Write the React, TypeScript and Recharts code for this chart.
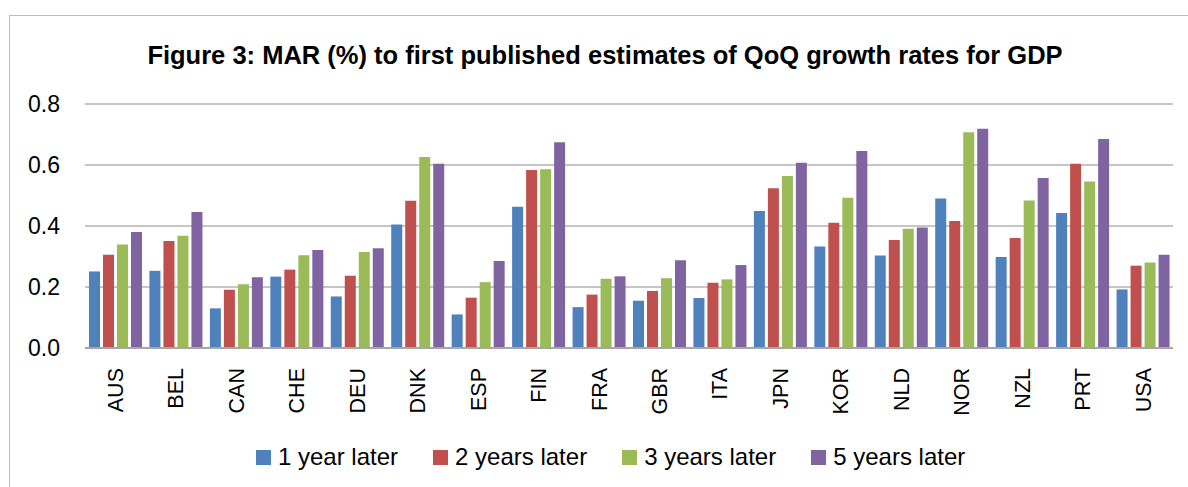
import React from "react";
import { BarChart, Bar, XAxis, YAxis, CartesianGrid } from "recharts";

const countries = ["AUS", "BEL", "CAN", "CHE", "DEU", "DNK", "ESP", "FIN", "FRA", "GBR", "ITA", "JPN", "KOR", "NLD", "NOR", "NZL", "PRT", "USA"];
const oneYear = [0.251, 0.253, 0.130, 0.234, 0.169, 0.405, 0.110, 0.463, 0.134, 0.155, 0.164, 0.449, 0.333, 0.303, 0.490, 0.298, 0.443, 0.192];
const twoYears = [0.306, 0.351, 0.191, 0.257, 0.237, 0.483, 0.165, 0.584, 0.175, 0.187, 0.214, 0.524, 0.411, 0.354, 0.416, 0.361, 0.604, 0.270];
const threeYears = [0.339, 0.368, 0.209, 0.304, 0.315, 0.626, 0.216, 0.586, 0.227, 0.229, 0.225, 0.564, 0.493, 0.391, 0.707, 0.484, 0.546, 0.280];
const fiveYears = [0.380, 0.446, 0.232, 0.321, 0.327, 0.604, 0.285, 0.675, 0.235, 0.288, 0.272, 0.607, 0.646, 0.395, 0.719, 0.557, 0.685, 0.306];
const yTicks = [0, 0.2, 0.4, 0.6, 0.8];
const seriesNames = ["1 year later", "2 years later", "3 years later", "5 years later"];
const seriesKeys = ["y1", "y2", "y3", "y5"];
const seriesColors = ["#4F81BD", "#C0504D", "#9BBB59", "#8064A2"];
const title = "Figure 3: MAR (%) to first published estimates of QoQ growth rates for GDP";

const data = countries.map((c, i) => ({
  name: c,
  y1: oneYear[i],
  y2: twoYears[i],
  y3: threeYears[i],
  y5: fiveYears[i],
}));

const FONT = "'Liberation Sans', Arial, sans-serif";

const XTick = (props: any) => {
  const { x, y, payload } = props;
  return (
    <text
      transform={`translate(${x},${y + 18}) rotate(-90)`}
      textAnchor="end"
      dy="0.36em"
      fontSize={21.5}
      fontFamily={FONT}
      fill="#000"
    >
      {payload.value}
    </text>
  );
};

export default function App() {
  return (
    <div style={{ position: "absolute", left: 0, top: 0, width: 1188, height: 487, background: "#fff", overflow: "hidden" }}>
      <div
        style={{
          position: "absolute",
          left: 9,
          top: 15,
          width: 1188,
          height: 487,
          borderTop: "1.5px solid #bdbdbd",
          borderLeft: "1.5px solid #bdbdbd",
        }}
      />
      <div
        style={{
          position: "absolute",
          left: 605,
          top: 43,
          transform: "translateX(-50%)",
          whiteSpace: "nowrap",
          fontFamily: FONT,
          fontWeight: "bold",
          fontSize: 25.5,
          lineHeight: "25.5px",
          color: "#000",
        }}
      >
        {title}
      </div>
      <BarChart
        width={1188}
        height={487}
        data={data}
        margin={{ top: 104, right: 15, left: 0, bottom: 49 }}
        barSize={11}
        barGap={3}
      >
        <CartesianGrid vertical={false} stroke="#b3b3b3" strokeWidth={1.5} />
        <XAxis
          dataKey="name"
          height={90}
          tick={<XTick />}
          tickLine={false}
          tickSize={0}
          interval={0}
          axisLine={{ stroke: "#a6a6a6", strokeWidth: 2 }}
        />
        <YAxis
          width={85}
          domain={[0, 0.8]}
          ticks={yTicks}
          tickFormatter={(v: number) => v.toFixed(1)}
          tickLine={false}
          axisLine={false}
          tickSize={0}
          tickMargin={25}
          tick={{ fontSize: 23, fontFamily: FONT, fill: "#000" }}
        />
        {seriesKeys.map((k, i) => (
          <Bar key={k} dataKey={k} name={seriesNames[i]} fill={seriesColors[i]} isAnimationActive={false} />
        ))}
      </BarChart>
      <div
        style={{
          position: "absolute",
          left: 256,
          top: 445,
          display: "flex",
          alignItems: "center",
          fontFamily: FONT,
          fontSize: 24,
          lineHeight: "24px",
          color: "#000",
          whiteSpace: "nowrap",
        }}
      >
        {seriesNames.map((n, i) => (
          <div key={n} style={{ display: "flex", alignItems: "center", marginRight: 35 }}>
            <div style={{ width: 15, height: 15, background: seriesColors[i], marginRight: 7 }} />
            <span>{n}</span>
          </div>
        ))}
      </div>
    </div>
  );
}
